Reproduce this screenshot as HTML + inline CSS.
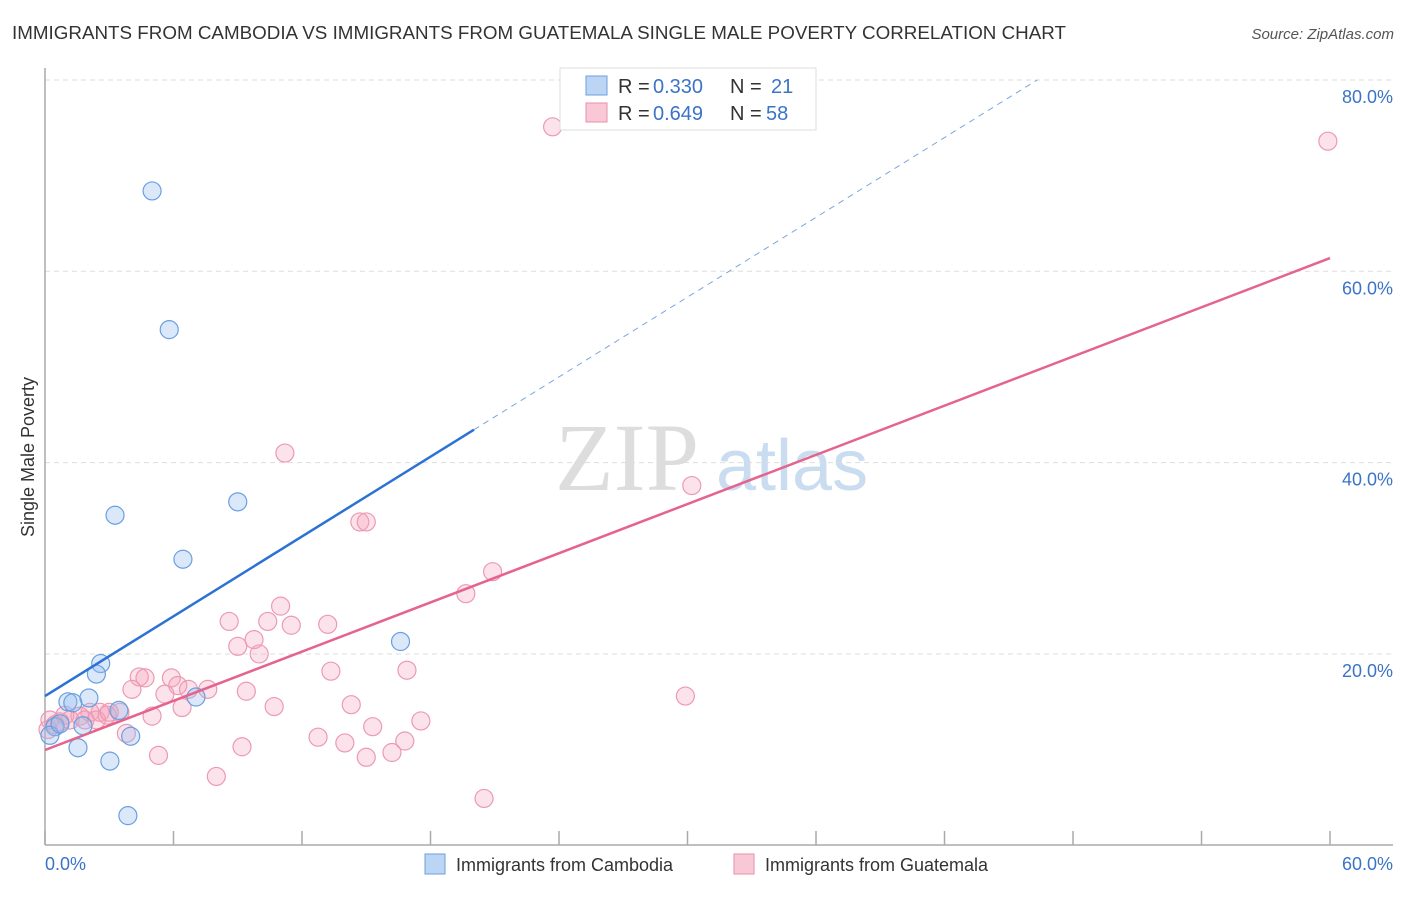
<!DOCTYPE html>
<html><head><meta charset="utf-8"><style>
body{margin:0;background:#fff;font-family:"Liberation Sans",sans-serif;}
</style></head><body>
<svg id="chart" width="1406" height="892" xmlns="http://www.w3.org/2000/svg">
<text x="12" y="39" font-size="18" fill="#333" textLength="1054" lengthAdjust="spacingAndGlyphs">IMMIGRANTS FROM CAMBODIA VS IMMIGRANTS FROM GUATEMALA SINGLE MALE POVERTY CORRELATION CHART</text>
<text x="1394" y="39" font-size="15" fill="#555" font-style="italic" text-anchor="end">Source: ZipAtlas.com</text>
<text x="555" y="490" font-size="96" fill="#ddd" font-family="Liberation Serif,serif">ZIP</text>
<text x="716" y="490" font-size="72" fill="#c9dcf0">atlas</text>
<g id="grid"></g><g id="axes"></g><g id="pts"></g><g id="lines"></g>
<text transform="translate(34,457) rotate(-90)" font-size="18" fill="#333" text-anchor="middle">Single Male Poverty</text>
<text x="45" y="870" font-size="18" fill="#3b73c8">0.0%</text>
<text x="1393" y="870" font-size="18" fill="#3b73c8" text-anchor="end">60.0%</text>
<g>
<rect x="560" y="68" width="256" height="62" fill="#fff" stroke="#ddd"/>
<rect x="586" y="76" width="21" height="19" fill="#bcd5f5" stroke="#6a9fe0"/>
<rect x="586" y="103" width="21" height="19" fill="#f8c8d6" stroke="#ea8faa"/>
<text x="618" y="93" font-size="20" fill="#333">R =</text>
<text x="653" y="93" font-size="20" fill="#3b73c8">0.330</text>
<text x="730" y="93" font-size="20" fill="#333">N =</text>
<text x="771" y="93" font-size="20" fill="#3b73c8">21</text>
<text x="618" y="120" font-size="20" fill="#333">R =</text>
<text x="653" y="120" font-size="20" fill="#3b73c8">0.649</text>
<text x="730" y="120" font-size="20" fill="#333">N =</text>
<text x="766" y="120" font-size="20" fill="#3b73c8">58</text>
</g>
<g>
<rect x="425" y="854" width="20" height="20" fill="#bcd5f5" stroke="#6a9fe0"/>
<text x="456" y="871" font-size="18" fill="#333">Immigrants from Cambodia</text>
<rect x="734" y="854" width="20" height="20" fill="#f8c8d6" stroke="#ea8faa"/>
<text x="765" y="871" font-size="18" fill="#333">Immigrants from Guatemala</text>
</g>
</svg>
<script>
const xTicks=[0,6,12,18,24,30,36,42,48,54,60];
const yTicks=[20,40,60,80];
const yTickLabels=["20.0%","40.0%","60.0%","80.0%"];
const cambodiaX=[5.0,5.8,3.27,9.0,6.44,16.6,2.6,2.4,1.07,2.05,0.47,1.77,3.45,7.05,1.54,3.03,3.87,4.0,0.23,0.7,1.3];
const cambodiaY=[68.4,53.9,34.5,35.9,29.9,21.3,19.0,17.9,15.0,15.4,12.4,12.5,14.1,15.5,10.2,8.8,3.1,11.4,11.5,12.7,14.9];
const guatemalaX=[23.7,59.9,11.2,30.2,14.7,15.0,20.9,19.65,11.0,8.6,10.4,11.5,13.2,9.76,9.0,10.0,13.35,16.9,4.4,4.67,5.9,6.2,6.7,7.6,4.06,5.6,9.4,29.9,14.3,10.7,5.0,6.4,2.57,3.5,2.9,2.1,1.63,1.17,0.7,17.55,15.3,12.75,14.0,3.8,9.2,16.8,16.2,15.0,5.3,8.0,20.5,0.23,0.93,0.14,0.47,1.87,2.4,3.0];
const guatemalaY=[75.1,73.6,41.0,37.6,33.8,33.8,28.6,26.3,25.0,23.4,23.4,23.0,23.1,21.5,20.8,20.0,18.2,18.3,17.6,17.5,17.5,16.7,16.3,16.3,16.3,15.8,16.1,15.6,14.7,14.5,13.5,14.4,13.9,13.9,13.6,13.9,13.5,13.1,12.9,13.0,12.4,11.3,10.7,11.7,10.3,10.9,9.7,9.2,9.4,7.2,4.9,13.1,13.6,12.1,12.6,13.1,13.1,13.9];
const cambodiaTrend=[15.6,1.39];
const guatemalaTrend=[9.96,0.857];
const NS="http://www.w3.org/2000/svg";
const X=v=>45+v*21.417, Y=v=>845.3-v*9.567;
function mk(t,a,p){const e=document.createElementNS(NS,t);for(const k in a)e.setAttribute(k,a[k]);p.appendChild(e);return e;}
const grid=document.getElementById('grid'),axes=document.getElementById('axes'),pts=document.getElementById('pts'),lines=document.getElementById('lines');
yTicks.forEach((t,i)=>{
 const l=mk('line',{x1:45,x2:1393,y1:Y(t),y2:Y(t),stroke:'#ddd','stroke-dasharray':'5,4'},grid);
 
 
 const tx=mk('text',{x:1393,y:Y(t)+23,'font-size':18,fill:'#3b73c8','text-anchor':'end'},grid);
 tx.textContent=yTickLabels[i];
 
 
});
const ya=mk('line',{x1:45,x2:45,y1:68,y2:845,stroke:'#aaa','stroke-width':1.5},axes);


const xa=mk('line',{x1:45,x2:1393,y1:845,y2:845,stroke:'#aaa','stroke-width':1.5},axes);


xTicks.forEach(t=>{
 const l=mk('line',{x1:X(t),x2:X(t),y1:831,y2:845,stroke:'#aaa','stroke-width':1.5},axes);
 
 
});
guatemalaX.forEach((v,i)=>{
 const c=mk('circle',{cx:X(v),cy:Y(guatemalaY[i]),r:9,fill:'rgba(244,160,186,0.3)',stroke:'#ec9ab3','stroke-width':1.2},pts);
 
 
});
cambodiaX.forEach((v,i)=>{
 const c=mk('circle',{cx:X(v),cy:Y(cambodiaY[i]),r:9,fill:'rgba(150,190,240,0.35)',stroke:'#6a9fe0','stroke-width':1.2},pts);
 
 
});
const cx1=20.03;
const b1=mk('line',{x1:X(0),y1:Y(cambodiaTrend[0]),x2:X(cx1),y2:Y(cambodiaTrend[0]+cambodiaTrend[1]*cx1),stroke:'#2b72d4','stroke-width':2.5},lines);


const xe=(80-cambodiaTrend[0])/cambodiaTrend[1];
const b2=mk('line',{x1:X(cx1),y1:Y(cambodiaTrend[0]+cambodiaTrend[1]*cx1),x2:X(xe),y2:Y(80),stroke:'#7aa6e0','stroke-width':1,'stroke-dasharray':'6,5'},lines);


const p1=mk('line',{x1:X(0),y1:Y(guatemalaTrend[0]),x2:X(60),y2:Y(guatemalaTrend[0]+guatemalaTrend[1]*60),stroke:'#e4648e','stroke-width':2.5},lines);


</script>
</body></html>
